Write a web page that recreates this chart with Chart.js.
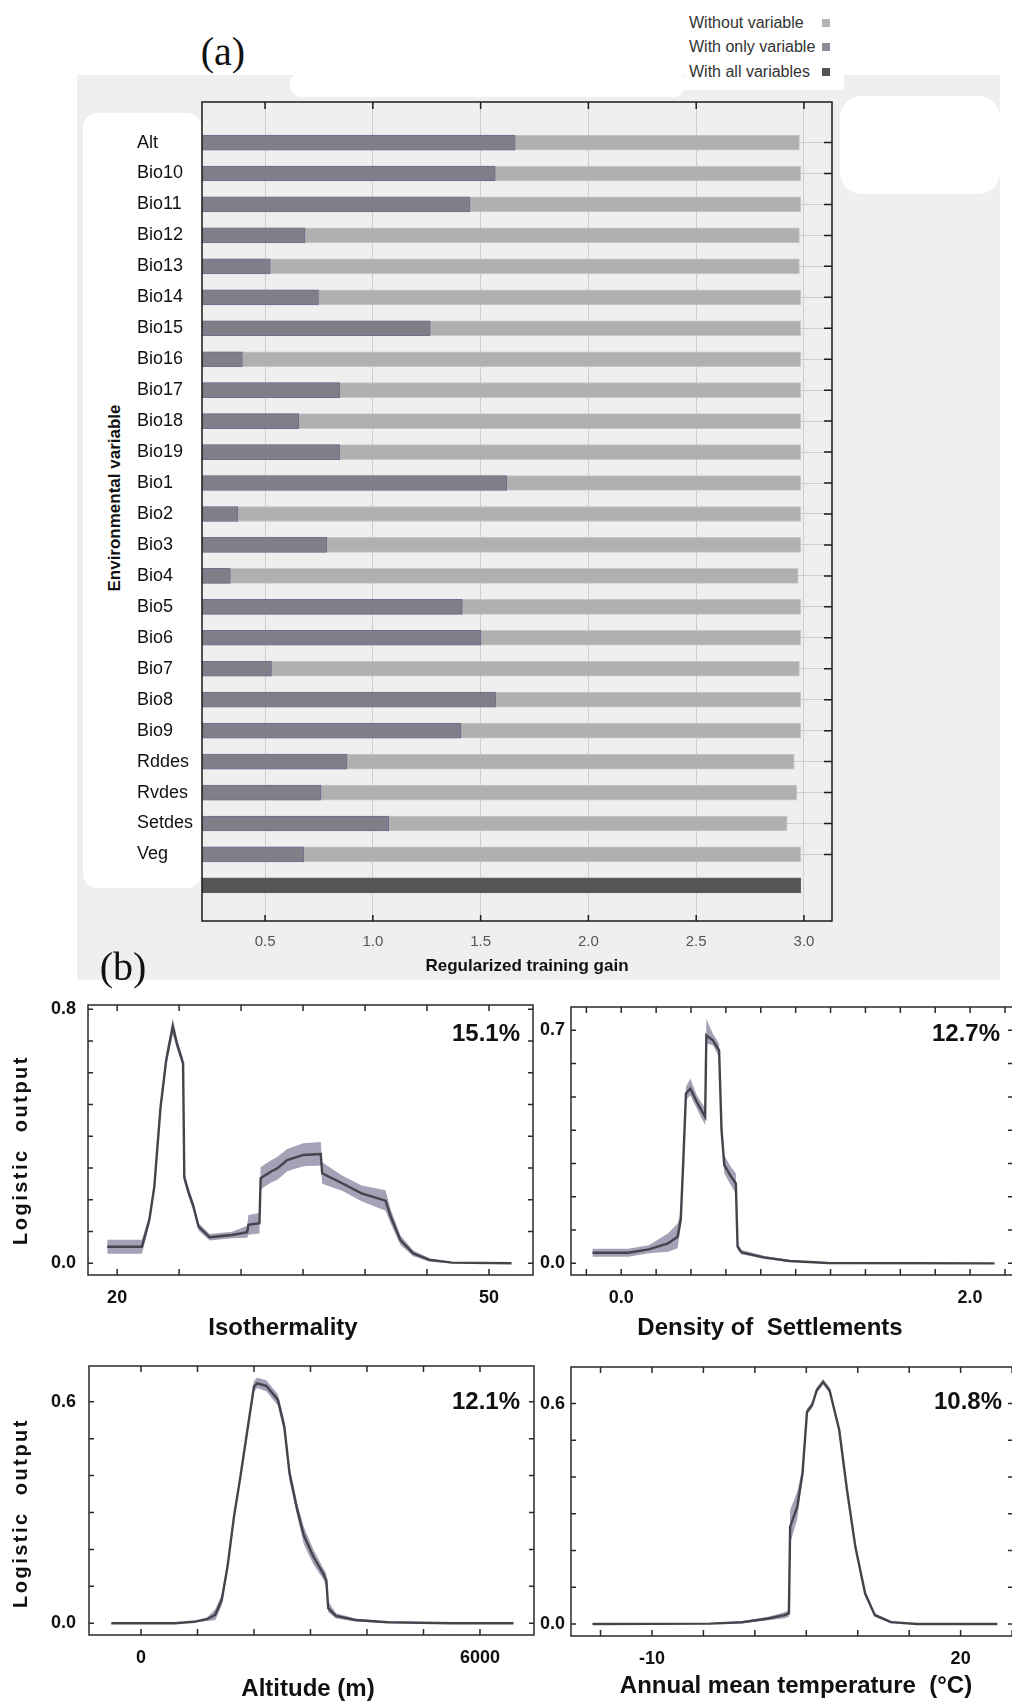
<!DOCTYPE html>
<html>
<head>
<meta charset="utf-8">
<title>Jackknife of regularized training gain and response curves</title>
<script src="https://cdn.jsdelivr.net/npm/chart.js@4.4.1/dist/chart.umd.min.js"></script>
<style>
  body { margin: 0; background: #fff; }
  #page { position: relative; width: 1012px; height: 1703px; overflow: hidden; font-family: "Liberation Sans", Arial, sans-serif; color: #111; }
  .bg { position: absolute; }
  canvas { position: absolute; }
  .t { position: absolute; white-space: pre; line-height: 1; transform: translate(-50%, -50%); }
  .l { transform: translate(0, -50%); }
  .r { transform: translate(-100%, -50%); }
  .v { transform: translate(-50%, -50%) rotate(-90deg); }
  .b { font-weight: bold; }
</style>
</head>
<body>
<div id="page">
  <!-- scanned grey backdrop of panel (a), with its white patches -->
  <div class="bg" style="left:77px;top:75px;width:923px;height:905px;background:#efefef"></div>
  <div class="bg" style="left:83px;top:113px;width:118px;height:775px;background:#fff;border-radius:14px"></div>
  <div class="bg" style="left:290px;top:72px;width:395px;height:25px;background:#fff;border-radius:12px"></div>
  <div class="bg" style="left:684px;top:60px;width:160px;height:30px;background:#fff"></div>
  <div class="bg" style="left:840px;top:96px;width:160px;height:98px;background:#fff;border-radius:22px"></div>

  <canvas id="gain" width="712" height="884" style="left:130px;top:82px"></canvas>
  <canvas id="iso" width="507" height="343" style="left:30px;top:975px"></canvas>
  <canvas id="settle" width="492" height="341" style="left:535px;top:977px"></canvas>
  <canvas id="alt" width="508" height="342" style="left:30px;top:1336px"></canvas>
  <canvas id="temp" width="492" height="342" style="left:535px;top:1337px"></canvas>

  <div class="t" style="left:223px;top:51px;font:40px 'Liberation Serif',serif">(a)</div>
  <div class="t" style="left:123px;top:966px;font:40px 'Liberation Serif',serif">(b)</div>

  <div class="t l" style="left:689px;top:23px;font-size:16px;color:#333">Without variable</div>
  <div class="t l" style="left:689px;top:47px;font-size:16px;color:#333">With only variable</div>
  <div class="t l" style="left:689px;top:72px;font-size:16px;color:#333">With all variables</div>
  <div class="bg" style="left:822px;top:19px;width:8px;height:8px;background:#b3b3b3"></div>
  <div class="bg" style="left:822px;top:43px;width:8px;height:8px;background:#8b8a96"></div>
  <div class="bg" style="left:822px;top:68px;width:8px;height:8px;background:#555"></div>

  <div class="t v b" style="left:114px;top:498px;font-size:17px">Environmental variable</div>
  <div class="t b" style="left:527px;top:965px;font-size:17px">Regularized training gain</div>

  <div class="t v b" style="left:20px;top:1150px;font-size:20px;letter-spacing:2.5px">Logistic  output</div>
  <div class="t v b" style="left:20px;top:1513px;font-size:20px;letter-spacing:2.5px">Logistic  output</div>
  <div class="t b" style="left:283px;top:1327px;font-size:24px">Isothermality</div>
  <div class="t b" style="left:770px;top:1327px;font-size:24px">Density of  Settlements</div>
  <div class="t b" style="left:308px;top:1688px;font-size:24px">Altitude (m)</div>
  <div class="t b" style="left:796px;top:1685px;font-size:24px">Annual mean temperature  (°C)</div>

  <div class="t r b" style="left:520px;top:1033px;font-size:24px">15.1%</div>
  <div class="t r b" style="left:1000px;top:1033px;font-size:24px">12.7%</div>
  <div class="t r b" style="left:520px;top:1401px;font-size:24px">12.1%</div>
  <div class="t r b" style="left:1002px;top:1401px;font-size:24px">10.8%</div>
</div>

<script>
// (a) jackknife of regularized training gain
const varNames = ['Alt', 'Bio10', 'Bio11', 'Bio12', 'Bio13', 'Bio14', 'Bio15', 'Bio16', 'Bio17', 'Bio18', 'Bio19', 'Bio1',
                  'Bio2', 'Bio3', 'Bio4', 'Bio5', 'Bio6', 'Bio7', 'Bio8', 'Bio9', 'Rddes', 'Rvdes', 'Setdes', 'Veg'];
const onlyGain = [1.660, 1.568, 1.451, 0.685, 0.524, 0.748, 1.266, 0.395, 0.847, 0.656, 0.847, 1.621,
                  0.374, 0.787, 0.339, 1.415, 1.502, 0.530, 1.571, 1.409, 0.880, 0.760, 1.074, 0.679];
const withoutGain = [2.979, 2.985, 2.985, 2.979, 2.979, 2.985, 2.985, 2.985, 2.985, 2.985, 2.985, 2.985,
                     2.985, 2.985, 2.973, 2.985, 2.985, 2.979, 2.985, 2.985, 2.955, 2.967, 2.922, 2.985];
const allGain = 2.985;
const gainStep = 0.5;

// (b) response curves: x, mean, lower and upper band
const isoX    = [19.2, 22.0, 22.6, 23.0, 23.5, 23.96, 24.49, 24.85, 25.32, 25.42, 25.75, 26.16, 26.57, 27.46, 29.29, 30.49, 30.59,
                 31.48, 31.58, 32.42, 32.94, 33.72, 35.02, 36.43, 36.54, 38.15, 39.72, 41.65, 42.07, 42.85, 43.89, 45.2, 47.02, 51.82];
const isoMean = [0.052, 0.052, 0.137, 0.241, 0.49, 0.64, 0.745, 0.688, 0.63, 0.27, 0.225, 0.178, 0.115, 0.082, 0.089, 0.098, 0.121,
                 0.126, 0.268, 0.289, 0.299, 0.325, 0.341, 0.344, 0.283, 0.252, 0.22, 0.197, 0.147, 0.073, 0.031, 0.0105, 0.002, 0.0];
const isoLow  = [0.030, 0.030, 0.122, 0.226, 0.472, 0.620, 0.720, 0.672, 0.615, 0.255, 0.210, 0.164, 0.103, 0.072, 0.079, 0.080, 0.090,
                 0.094, 0.233, 0.254, 0.263, 0.290, 0.305, 0.308, 0.250, 0.228, 0.195, 0.165, 0.125, 0.058, 0.022, 0.005, 0.0, 0.0];
const isoHigh = [0.074, 0.074, 0.152, 0.256, 0.508, 0.660, 0.772, 0.704, 0.645, 0.285, 0.240, 0.192, 0.127, 0.092, 0.099, 0.118, 0.152,
                 0.158, 0.303, 0.324, 0.335, 0.360, 0.378, 0.382, 0.318, 0.276, 0.245, 0.230, 0.170, 0.088, 0.040, 0.016, 0.004, 0.0];

const setX    = [-0.165, 0.04, 0.158, 0.268, 0.323, 0.341, 0.356, 0.371, 0.396, 0.433, 0.481, 0.488, 0.525, 0.561, 0.575, 0.591,
                 0.628, 0.657, 0.667, 0.69, 0.818, 0.965, 1.185, 2.14];
const setMean = [0.032, 0.032, 0.042, 0.06, 0.08, 0.13, 0.31, 0.51, 0.525, 0.485, 0.44, 0.685, 0.67, 0.64, 0.40, 0.295,
                 0.262, 0.24, 0.05, 0.033, 0.018, 0.007, 0.001, 0.0];
const setLow  = [0.02, 0.02, 0.03, 0.035, 0.045, 0.11, 0.29, 0.49, 0.505, 0.465, 0.415, 0.66, 0.655, 0.62, 0.37, 0.27,
                 0.235, 0.21, 0.04, 0.027, 0.013, 0.004, 0.0, 0.0];
const setHigh = [0.044, 0.044, 0.054, 0.09, 0.12, 0.15, 0.33, 0.53, 0.555, 0.505, 0.465, 0.735, 0.69, 0.66, 0.43, 0.325,
                 0.29, 0.27, 0.06, 0.04, 0.023, 0.01, 0.002, 0.0];

const altX    = [-526, 594, 937, 1166, 1314, 1429, 1531, 1646, 1760, 1874, 2000, 2057, 2217, 2423, 2537, 2629, 2766, 2880,
                 3051, 3223, 3280, 3314, 3451, 3794, 4366, 5509, 6594];
const altMean = [0, 0, 0.004, 0.011, 0.023, 0.063, 0.153, 0.289, 0.397, 0.514, 0.641, 0.65, 0.643, 0.605, 0.532, 0.406, 0.307, 0.239,
                 0.18, 0.135, 0.117, 0.041, 0.02, 0.009, 0.003, 0, 0];
const altLow  = [0, 0, 0.002, 0.006, 0.008, 0.048, 0.143, 0.279, 0.387, 0.504, 0.628, 0.637, 0.628, 0.59, 0.515, 0.385, 0.29, 0.215,
                 0.16, 0.12, 0.1, 0.03, 0.013, 0.005, 0.001, 0, 0];
const altHigh = [0, 0, 0.006, 0.016, 0.038, 0.078, 0.163, 0.299, 0.407, 0.524, 0.656, 0.665, 0.658, 0.62, 0.55, 0.425, 0.325, 0.262,
                 0.2, 0.15, 0.135, 0.06, 0.027, 0.013, 0.005, 0, 0];

const tempX    = [-15.78, -4.35, -1.21, 1.30, 2.87, 3.31, 3.43, 4.12, 4.63, 5.07, 5.57, 6.01, 6.64, 7.26, 8.2, 8.96, 9.77,
                  10.72, 11.66, 13.23, 15.74, 23.58];
const tempMean = [0, 0.001, 0.005, 0.015, 0.024, 0.029, 0.265, 0.319, 0.41, 0.578, 0.596, 0.636, 0.659, 0.636, 0.528, 0.364, 0.21,
                  0.083, 0.024, 0.005, 0, 0];
const tempLow  = [0, 0, 0.002, 0.01, 0.016, 0.02, 0.22, 0.285, 0.395, 0.57, 0.588, 0.628, 0.651, 0.628, 0.52, 0.356, 0.203,
                  0.077, 0.019, 0.002, 0, 0];
const tempHigh = [0, 0.002, 0.008, 0.02, 0.032, 0.038, 0.31, 0.36, 0.425, 0.586, 0.604, 0.644, 0.667, 0.644, 0.536, 0.372, 0.217,
                  0.089, 0.029, 0.008, 0, 0];

// which tick values carry a label
const isoTickLabels = [20, 50];
const setTickLabels = [0, 2];
const altTicks = [0, 1000, 2000, 3000, 4000, 5000, 6000];
const altTickLabels = [0, 6000];
const tempTickLabels = [-10, 20];

Chart.defaults.font.family = "'Liberation Sans', Arial, sans-serif";

// box around the plot area with short inward tick marks
const frame = {
  id: 'frame',
  afterDraw(chart, args, o) {
    const ctx = chart.ctx, a = chart.chartArea;
    const sx = chart.scales.x, sy = chart.scales.y;
    ctx.save();
    ctx.strokeStyle = o.color;
    ctx.lineWidth = o.width;
    ctx.strokeRect(a.left, a.top, a.right - a.left, a.bottom - a.top);
    ctx.beginPath();
    sx.ticks.forEach(t => {
      if (t.label === null || t.label === undefined) return;
      const p = sx.getPixelForValue(t.value);
      if (o.xTop) { ctx.moveTo(p, a.top); ctx.lineTo(p, a.top + o.xTop); }
      if (o.xBottom) { ctx.moveTo(p, a.bottom); ctx.lineTo(p, a.bottom - o.xBottom); }
    });
    sy.ticks.forEach(t => {
      if (t.label === null || t.label === undefined) return;
      const p = sy.getPixelForValue(t.value);
      if (o.yLeft) { ctx.moveTo(a.left, p); ctx.lineTo(a.left + o.yLeft, p); }
      if (o.yRight) { ctx.moveTo(a.right, p); ctx.lineTo(a.right - o.yRight, p); }
    });
    ctx.stroke();
    ctx.restore();
  }
};
Chart.register(frame);

const pts = (xs, ys) => xs.map((x, i) => ({x: x, y: ys[i]}));

// (a)
const gainMin = 0.2075;
new Chart(document.getElementById('gain'), {
  type: 'bar',
  data: {
    datasets: [
      { label: 'With only variable', data: pts(onlyGain, varNames.map((n, i) => i)),
        backgroundColor: '#807e89', borderColor: '#726e90', borderWidth: 1, barThickness: 15, grouped: false, base: gainMin },
      { label: 'Without variable', data: pts(withoutGain, varNames.map((n, i) => i)),
        backgroundColor: '#b0b0b0', borderColor: '#c4cbc6', borderWidth: 1, barThickness: 15, grouped: false, base: gainMin },
      { label: 'With all variables', data: [{x: allGain, y: varNames.length}],
        backgroundColor: '#555555', borderColor: '#6a5f5f', borderWidth: 1, barThickness: 15, grouped: false, base: gainMin }
    ]
  },
  options: {
    indexAxis: 'y',
    responsive: false,
    animation: false,
    layout: { padding: {left: 7, top: 20, right: 10, bottom: 5} },
    plugins: {
      legend: { display: false },
      tooltip: { enabled: false },
      frame: { color: '#1b1b1b', width: 1.5, xTop: 7, xBottom: 6, yRight: 8 }
    },
    scales: {
      x: {
        type: 'linear', min: gainMin, max: 3.13,
        afterFit: s => { s.height = 40; },
        grid: { color: '#cdcdcd', drawTicks: false },
        border: { display: false },
        ticks: { stepSize: gainStep, includeBounds: false, padding: 12, color: '#555', font: { size: 15 },
                 callback: v => v.toFixed(1) }
      },
      y: {
        type: 'linear', reverse: true, min: -1.31, max: 25.15, offset: false,
        afterFit: s => { s.width = 65; },
        grid: { drawTicks: false, offset: false,
                color: c => (c.tick && c.tick.value >= 0 && c.tick.value < varNames.length) ? '#cdcdcd' : 'rgba(0,0,0,0)' },
        border: { display: false },
        ticks: { stepSize: 1, includeBounds: false, autoSkip: false, crossAlign: 'far', color: '#111', font: { size: 18 },
                 callback: v => (v >= 0 && v < varNames.length) ? varNames[v] : null }
      }
    }
  }
});

// (b)
function labelOnly(list, fmt) {
  return v => {
    const k = list.find(s => Math.abs(s - v) < 1e-6);
    return k === undefined ? '' : fmt(k);
  };
}

function responseChart(id, xs, mean, lo, hi, sc) {
  return new Chart(document.getElementById(id), {
    type: 'line',
    data: {
      datasets: [
        { data: pts(xs, mean), borderColor: '#44444d', borderWidth: 2.4, pointRadius: 0, fill: false },
        { data: pts(xs, lo), borderWidth: 0, borderColor: 'rgba(0,0,0,0)', pointRadius: 0, fill: false },
        { data: pts(xs, hi), borderWidth: 0, borderColor: 'rgba(0,0,0,0)', pointRadius: 0,
          backgroundColor: '#a3a2b6', fill: '-1' }
      ]
    },
    options: {
      responsive: false,
      animation: false,
      layout: { padding: {left: 0, top: 30, right: sc.padR, bottom: 3} },
      plugins: {
        legend: { display: false },
        tooltip: { enabled: false },
        frame: { color: '#2a2a2a', width: 1.5, xTop: 6, xBottom: 6, yLeft: 5, yRight: 5 }
      },
      scales: {
        x: {
          type: 'linear', min: sc.xMin, max: sc.xMax,
          afterFit: s => { s.height = 40; },
          afterBuildTicks: s => { if (sc.xTicks) s.ticks = sc.xTicks.map(v => ({value: v})); },
          grid: { display: false, drawTicks: false },
          border: { display: false },
          ticks: { stepSize: sc.xStep, includeBounds: false, autoSkip: false, maxRotation: 0, padding: 12,
                   color: '#111', font: { size: 18, weight: 'bold' }, callback: labelOnly(sc.xLabels, sc.xFmt) }
        },
        y: {
          type: 'linear', min: sc.yMin, max: sc.yMax,
          afterFit: s => { s.width = sc.yWidth; },
          grid: { display: false, drawTicks: false },
          border: { display: false },
          ticks: { stepSize: 0.1, includeBounds: false, autoSkip: false, padding: sc.yPad,
                   color: '#111', font: { size: 18, weight: 'bold' }, callback: labelOnly(sc.yLabels, v => v.toFixed(1)) }
        }
      }
    }
  });
}

responseChart('iso', isoX, isoMean, isoLow, isoHigh, {
  xMin: 17.65, xMax: 53.55, xStep: 5, xLabels: isoTickLabels, xFmt: v => String(v),
  yMin: -0.037, yMax: 0.813, yLabels: [0, 0.8], yWidth: 58, yPad: 12, padR: 4
});
responseChart('settle', setX, setMean, setLow, setHigh, {
  xMin: -0.288, xMax: 2.246, xStep: 0.2, xLabels: setTickLabels, xFmt: v => v.toFixed(1),
  yMin: -0.035, yMax: 0.77, yLabels: [0, 0.7], yWidth: 36, yPad: 6, padR: 14
});
responseChart('alt', altX, altMean, altLow, altHigh, {
  xMin: -920, xMax: 6956, xStep: 1000, xTicks: altTicks, xLabels: altTickLabels, xFmt: v => String(v),
  yMin: -0.0317, yMax: 0.6967, yLabels: [0, 0.6], yWidth: 59, yPad: 13, padR: 4
});
responseChart('temp', tempX, tempMean, tempLow, tempHigh, {
  xMin: -17.87, xMax: 25.09, xStep: 5, xLabels: tempTickLabels, xFmt: v => String(v),
  yMin: -0.0326, yMax: 0.6995, yLabels: [0, 0.6], yWidth: 36, yPad: 6, padR: 14
});
</script>
</body>
</html>
